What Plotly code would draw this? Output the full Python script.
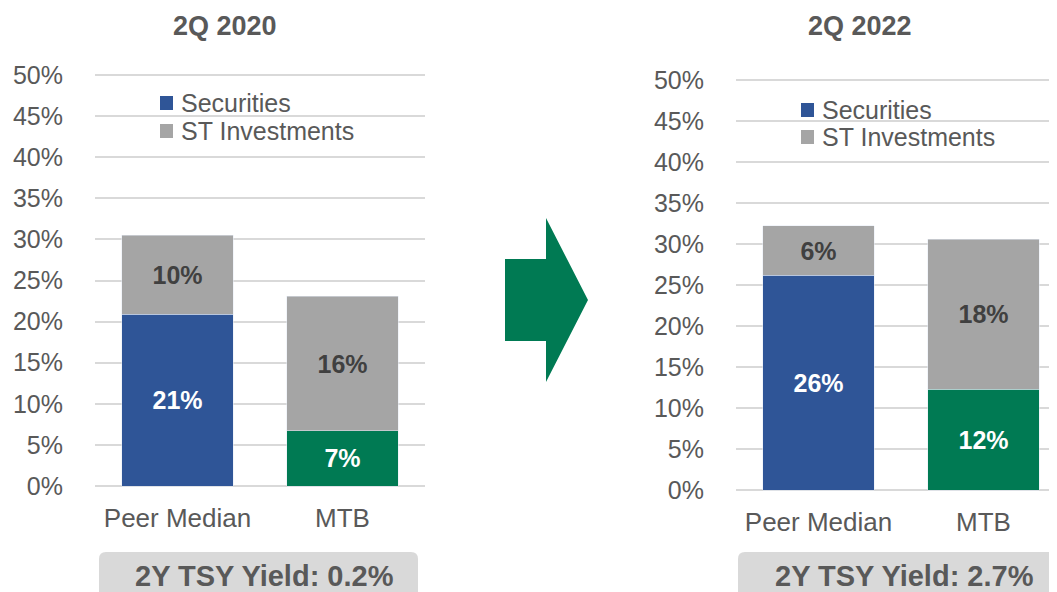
import plotly.graph_objects as go

# data (percent of assets)
categories = ["Peer Median", "MTB"]
sec_2020 = [20.9, 6.7]
st_2020 = [9.6, 16.4]
sec_2022 = [26.2, 12.3]
st_2022 = [6.0, 18.3]
series_names = ["Securities", "ST Investments"]
yield_labels = ["2Y TSY Yield: 0.2%", "2Y TSY Yield: 2.7%"]
period_titles = ["2Q 2020", "2Q 2022"]
y_ticks = [0, 5, 10, 15, 20, 25, 30, 35, 40, 45, 50]

BLUE = "#2F5597"
GREEN = "#007A53"
GRAY = "#A5A5A5"
GRID = "#D9D9D9"
TEXT = "#595959"
FONT = "Arial, Liberation Sans, sans-serif"

W, H = 1057, 592
OFF = 8  # page body margin


def px(x, y):
    # page pixel -> paper coords
    return (x - OFF) / W, 1 - (y - OFF) / H


fig = go.Figure()

for i, (sec, st) in enumerate([(sec_2020, st_2020), (sec_2022, st_2022)]):
    xa = "x" if i == 0 else "x2"
    ya = "y" if i == 0 else "y2"
    fig.add_trace(go.Bar(
        x=categories, y=sec, xaxis=xa, yaxis=ya, marker_color=[BLUE, GREEN], name=series_names[0],
        texttemplate="<b>%{y:.0f}%</b>", textposition="inside", insidetextanchor="middle",
        textangle=0, constraintext="none", insidetextfont=dict(color="white", size=25, family=FONT),
        showlegend=False, hoverinfo="skip",
    ))
    fig.add_trace(go.Bar(
        x=categories, y=st, xaxis=xa, yaxis=ya, marker_color=GRAY, name=series_names[1],
        texttemplate="<b>%{y:.0f}%</b>", textposition="inside", insidetextanchor="middle",
        textangle=0, constraintext="none", insidetextfont=dict(color="#404040", size=25, family=FONT),
        showlegend=False, hoverinfo="skip",
    ))

# y axis: 0..50 spans the pixel rows measured, padded a touch so end gridlines draw
PAD = 0.3
axis_y = dict(range=[-PAD, 50 + PAD], tickvals=y_ticks, ticktext=[f"{v}%" for v in y_ticks],
              showgrid=True, gridcolor=GRID, gridwidth=2, zeroline=False, showline=False,
              tickfont=dict(size=25, color=TEXT, family=FONT), ticklabelstandoff=31,
              automargin=False, fixedrange=True)
axis_x = dict(showgrid=False, showline=False, zeroline=False, ticks="", automargin=False,
              tickfont=dict(size=26, color=TEXT, family=FONT), ticklabelstandoff=12)


def ydomain(top, bottom):
    per = (bottom - top) / 50
    return [px(0, bottom + PAD * per)[1], px(0, top - PAD * per)[1]]


lx0 = px(95, 0)[0]
lx1 = px(425, 0)[0]
rx0 = px(736, 0)[0]

fig.update_layout(
    width=W, height=H, margin=dict(l=0, r=0, t=0, b=0, autoexpand=False),
    paper_bgcolor="white", plot_bgcolor="white",
    barmode="stack", bargap=0.327, showlegend=False,
    font=dict(family=FONT, color=TEXT),
    xaxis=dict(axis_x, domain=[lx0, lx1], range=[-0.5, 1.5], anchor="y"),
    yaxis=dict(axis_y, domain=ydomain(75, 486), anchor="x"),
    xaxis2=dict(axis_x, domain=[rx0, 1.0], range=[-0.5, -0.5 + (1 - rx0) * W / 165], anchor="y2"),
    yaxis2=dict(axis_y, domain=ydomain(80, 490), anchor="x2"),
)

# legends drawn inside each panel
for (sx, y1, y2) in [(160, 103, 131), (801, 110, 137)]:
    for name, col, yc in zip(series_names, [BLUE, GRAY], [y1, y2]):
        a, b = px(sx, yc - 7)
        c, d = px(sx + 13, yc + 7)
        fig.add_shape(type="rect", x0=a, y0=b, x1=c, y1=d, xref="paper", yref="paper",
                      fillcolor=col, line_width=0)
        tx, ty = px(sx + 19, yc)
        fig.add_annotation(text=name, x=tx, y=ty, xref="paper", yref="paper", xanchor="left",
                           yanchor="middle", showarrow=False, font=dict(size=25, color=TEXT, family=FONT))

# panel titles
for title, cx in zip(period_titles, [225, 860]):
    x, y = px(cx, 26)
    fig.add_annotation(text=f"<b>{title}</b>", x=x, y=y, xref="paper", yref="paper",
                       xanchor="center", yanchor="middle",
                       showarrow=False, font=dict(size=27, color=TEXT, family=FONT))

# green arrow between panels
pts = [(505, 259), (546, 259), (546, 218), (588, 300), (546, 382), (546, 341), (505, 341)]
path = "M " + " L ".join(f"{px(x, y)[0]:.5f},{px(x, y)[1]:.5f}" for x, y in pts) + " Z"
fig.add_shape(type="path", path=path, xref="paper", yref="paper", fillcolor=GREEN, line_width=0)


# rounded grey yield boxes
def rounded_box(x0, y0, x1, y1, r):
    p = [
        (x0 + r, y0), (x1 - r, y0), ("Q", x1, y0, x1, y0 + r), (x1, y1 - r),
        ("Q", x1, y1, x1 - r, y1), (x0 + r, y1), ("Q", x0, y1, x0, y1 - r),
        (x0, y0 + r), ("Q", x0, y0, x0 + r, y0),
    ]
    out = []
    for j, seg in enumerate(p):
        if seg[0] == "Q":
            a, b = px(seg[1], seg[2]); c, d = px(seg[3], seg[4])
            out.append(f"Q {a:.5f},{b:.5f} {c:.5f},{d:.5f}")
        else:
            a, b = px(*seg)
            out.append(("M " if j == 0 else "L ") + f"{a:.5f},{b:.5f}")
    return " ".join(out) + " Z"


for label, (bx0, bx1), tx in zip(yield_labels, [(99, 418), (738, 1075)], [264, 904]):
    fig.add_shape(type="path", path=rounded_box(bx0, 552, bx1, 610, 7), xref="paper", yref="paper",
                  fillcolor="#D9D9D9", line_width=0, layer="below")
    x, y = px(tx, 576)
    fig.add_annotation(text=f"<b>{label}</b>", x=x, y=y, xref="paper", yref="paper",
                       xanchor="center", yanchor="middle",
                       showarrow=False, font=dict(size=29, color=TEXT, family=FONT))

fig.write_html("out.html")
